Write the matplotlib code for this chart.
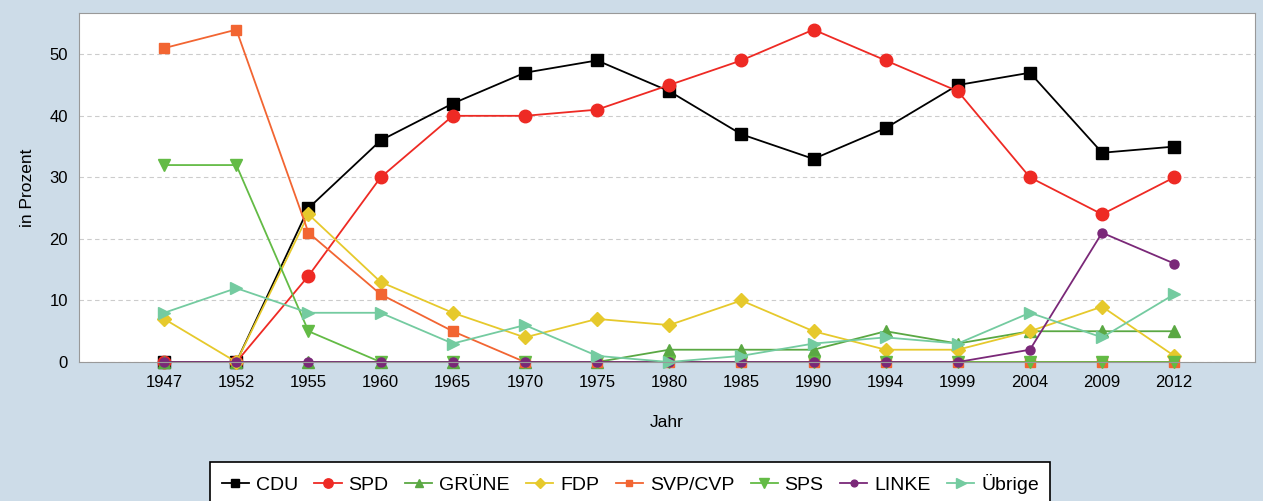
import numpy as np
import matplotlib.pyplot as plt

plt.rcParams['font.family'] = ['Liberation Sans', 'DejaVu Sans']

years = ['1947', '1952', '1955', '1960', '1965', '1970', '1975', '1980',
         '1985', '1990', '1994', '1999', '2004', '2009', '2012']

cdu = [0, 0, 25, 36, 42, 47, 49, 44, 37, 33, 38, 45, 47, 34, 35]
spd = [0, 0, 14, 30, 40, 40, 41, 45, 49, 54, 49, 44, 30, 24, 30]
gruene = [0, 0, 0, 0, 0, 0, 0, 2, 2, 2, 5, 3, 5, 5, 5]
fdp = [7, 0, 24, 13, 8, 4, 7, 6, 10, 5, 2, 2, 5, 9, 1]
svp_cvp = [51, 54, 21, 11, 5, 0, 0, 0, 0, 0, 0, 0, 0, 0, 0]
sps = [32, 32, 5, 0, 0, 0, 0, 0, 0, 0, 0, 0, 0, 0, 0]
linke = [0, 0, 0, 0, 0, 0, 0, 0, 0, 0, 0, 0, 2, 21, 16]
uebrige = [8, 12, 8, 8, 3, 6, 1, 0, 1, 3, 4, 3, 8, 4, 11]

series = [
    ('CDU', cdu, '#000000', 's', 8.5),
    ('SPD', spd, '#ee2a24', 'o', 9),
    ('GRÜNE', gruene, '#5aa843', '^', 8),
    ('FDP', fdp, '#e6c92c', 'D', 7),
    ('SVP/CVP', svp_cvp, '#f26532', 's', 6.5),
    ('SPS', sps, '#63bb45', 'v', 9),
    ('LINKE', linke, '#7a2878', 'o', 6.5),
    ('Übrige', uebrige, '#74cba0', '>', 9),
]

bg = '#cddce8'
fig = plt.figure(figsize=(12.63, 5.01), dpi=100, facecolor=bg)
ax = fig.add_axes([0.0626, 0.2774, 0.9311, 0.6966])
ax.set_facecolor('white')

x = np.arange(len(years))
for name, vals, col, mk, ms in series:
    ax.plot(x, vals, color=col, marker=mk, markersize=ms, linewidth=1.3,
            label=name, clip_on=False)

ax.set_xlim(-1.18, 15.12)
ax.set_ylim(0, 56.7)
ax.set_xticks(x)
ax.set_xticklabels(years)
ax.set_yticks([0, 10, 20, 30, 40, 50])
ax.tick_params(axis='both', length=0, labelsize=12)
ax.tick_params(axis='x', pad=9)
ax.tick_params(axis='y', pad=8)
ax.yaxis.grid(True, linestyle=(0, (4, 3)), color='#cccccc', linewidth=0.8)
ax.set_axisbelow(True)
for s in ax.spines.values():
    s.set_color('#999999')
ax.set_xlabel('Jahr', fontsize=12.5, labelpad=18)
ax.set_ylabel('in Prozent', fontsize=12.5, labelpad=10)

leg = fig.legend(loc='upper center', bbox_to_anchor=(0.499, 0.078), ncol=8,
                 frameon=True, fancybox=False, fontsize=14, handlelength=1.4,
                 handletextpad=0.35, columnspacing=0.85, borderpad=0.6,
                 borderaxespad=0, markerscale=0.75, framealpha=1)
leg.get_frame().set_edgecolor('black')
leg.get_frame().set_linewidth(1.2)

fig.savefig('out.png', dpi=100, facecolor=bg)
